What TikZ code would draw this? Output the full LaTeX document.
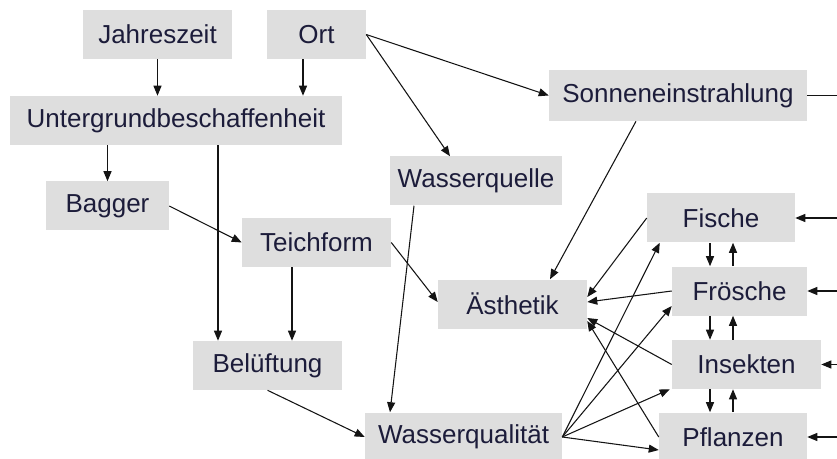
\documentclass[tikz,border=0pt]{standalone}
\usepackage{fontspec}
\setmainfont{Liberation Sans}
\usetikzlibrary{arrows.meta,calc}
\definecolor{boxfill}{RGB}{222,222,222}
\definecolor{labelink}{RGB}{28,28,58}
\definecolor{wire}{RGB}{20,20,20}
\begin{document}
\begin{tikzpicture}[x=0.75pt,y=-0.75pt,
  box/.style={fill=boxfill,draw=none,inner sep=0pt,minimum height=36.75pt,
    text=labelink,font=\fontsize{19.5}{23}\selectfont},
  link/.style={draw=wire,line width=0.8pt,-{Triangle[length=7.5pt,width=6pt]}},
  plain/.style={draw=wire,line width=0.8pt}]
\useasboundingbox (0,0) rectangle (837,459);
\clip (0,0) rectangle (837,459);

% factor boxes
\node[box,minimum width=111.75pt] (jahr) at (157.5,34.5) {Jahreszeit};
\node[box,minimum width=74.25pt] (ort) at (316.5,34.5) {Ort};
\node[box,minimum width=249pt] (unter) at (176,120.5) {Untergrundbeschaffenheit};
\node[box,minimum width=92.25pt] (bagger) at (107.5,206) {Bagger};
\node[box,minimum width=111.75pt] (teich) at (316.5,242.5) {Teichform};
\node[box,minimum width=129pt] (wquelle) at (476,181) {Wasserquelle};
\node[box,minimum width=193.5pt,minimum height=38.25pt] (sonne) at (678,95.5) {Sonneneinstrahlung};
\node[box,minimum width=111.75pt] (aesth) at (512.5,304) {Ästhetik};
\node[box,minimum width=111.75pt] (belue) at (267.5,365.5) {Belüftung};
\node[box,minimum width=147.75pt] (wqual) at (463.5,437) {Wasserqualität};
\node[box,minimum width=111pt] (fische) at (721,218) {Fische};
\node[box,minimum width=101.25pt] (froesche) at (739.5,291) {Frösche};
\node[box,minimum width=111.75pt] (insekten) at (746.5,364.5) {Insekten};
\node[box,minimum width=111pt] (pflanzen) at (733,437) {Pflanzen};

% loose ends at the right margin
\coordinate (edgeS) at (837,95.5);
\coordinate (edgeF) at (837,218);
\coordinate (edgeFr) at (837,291);
\coordinate (edgeI) at (837,364.5);
\coordinate (edgeP) at (837,437);

% upper part
\draw[link] (jahr.south) -- (jahr.south |- unter.north);
\draw[link] ($(ort.south)+(-13.5,0)$) -- ($(ort.south |- unter.north)+(-13.5,0)$);
\draw[link] (ort.east) -- (sonne.west);
\draw[link] (ort.east) -- ($(wquelle.north)+(-26,0)$);
\draw[link] (bagger.north |- unter.south) -- (bagger.north);
\draw[link] ($(belue.north |- unter.south)+(-49.5,0)$) -- ($(belue.north)+(-49.5,0)$);
\draw[link] (bagger.east) -- (teich.west);
\draw[link] ($(teich.south)+(-24.5,0)$) -- ($(teich.south |- belue.north)+(-24.5,0)$);
\draw[link] (teich.east) -- ($(aesth.west)+(0,-2)$);
\draw[link] ($(wquelle.south)+(-62,0)$) -- ($(wqual.north)+(-73.5,0)$);
\draw[link] (belue.south) -- (wqual.west);
\draw[link] ($(sonne.south)+(-42,0)$) -- ($(aesth.north)+(37.5,0)$);
\draw[plain] (sonne.east) -- (edgeS);

% animals and plants into aesthetics
\draw[link] (fische.west) -- ($(aesth.east)+(0,-7)$);
\draw[link] (froesche.west) -- ($(aesth.east)+(0,-2)$);
\draw[link] (insekten.west) -- ($(aesth.east)+(0,14)$);
\draw[link] (pflanzen.west) -- ($(aesth.east)+(0,17)$);

% water quality fans out
\draw[link] (wqual.east) -- ($(fische.south west)+(13,0)$);
\draw[link] (wqual.east) -- ($(froesche.west)+(0,15)$);
\draw[link] (wqual.east) -- ($(insekten.south west)+(-2,0)$);
\draw[link] (wqual.east) -- ($(pflanzen.west)+(0,13)$);

% external inputs
\draw[link] (edgeF) -- (fische.east);
\draw[link] (edgeFr) -- (froesche.east);
\draw[link] (edgeI) -- (insekten.east);
\draw[link] (edgeP) -- (pflanzen.east);

% mutual links in the right column
\draw[link] (710,0 |- fische.south) -- (710,0 |- froesche.north);
\draw[link] (733,0 |- froesche.north) -- (733,0 |- fische.south);
\draw[link] (710,0 |- froesche.south) -- (710,0 |- insekten.north);
\draw[link] (733,0 |- insekten.north) -- (733,0 |- froesche.south);
\draw[link] (710,0 |- insekten.south) -- (710,0 |- pflanzen.north);
\draw[link] (733,0 |- pflanzen.north) -- (733,0 |- insekten.south);
\end{tikzpicture}
\end{document}
